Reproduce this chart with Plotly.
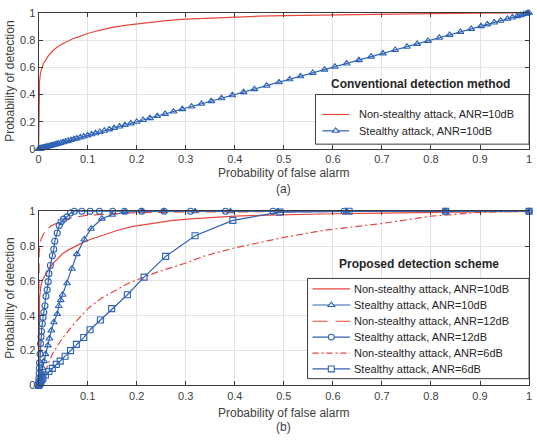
import math
import plotly.graph_objects as go

# ---------------- data ----------------
# (a) conventional detection method
conv_nst10_x = [0, 0.0005, 0.001, 0.002, 0.004, 0.007, 0.01, 0.015, 0.02, 0.03, 0.04, 0.05, 0.06, 0.07,
                0.08, 0.1, 0.12, 0.15, 0.18, 0.22, 0.26, 0.3, 0.35, 0.4, 0.45, 0.5, 0.6, 0.7, 0.8, 0.9, 1.0]
conv_nst10_y = [0, 0.3, 0.42, 0.5, 0.56, 0.6, 0.63, 0.655, 0.685, 0.725, 0.755, 0.775, 0.795, 0.81,
                0.822, 0.848, 0.868, 0.893, 0.91, 0.927, 0.942, 0.954, 0.962, 0.969, 0.975, 0.979, 0.985,
                0.99, 0.994, 0.997, 1.0]

conv_st10_x = [0, 0.001, 0.002, 0.003, 0.004, 0.005, 0.006, 0.008, 0.01, 0.012, 0.014, 0.016, 0.019,
               0.022, 0.025, 0.028, 0.032, 0.036, 0.04, 0.045, 0.05, 0.055, 0.06, 0.066, 0.072, 0.078,
               0.085, 0.092, 0.1, 0.108, 0.116, 0.125, 0.134, 0.144, 0.154, 0.165, 0.176, 0.188, 0.2,
               0.213, 0.227, 0.242, 0.258, 0.275, 0.293, 0.312, 0.332, 0.352, 0.373, 0.395, 0.418, 0.44,
               0.465, 0.49, 0.512, 0.534, 0.559, 0.583, 0.604, 0.628, 0.653, 0.678, 0.702, 0.727, 0.751,
               0.772, 0.794, 0.817, 0.838, 0.86, 0.882, 0.902, 0.915, 0.929, 0.942, 0.956, 0.966, 0.976,
               0.983, 0.989, 0.994, 0.997, 1.0]
conv_st10_y = [0, 0.001, 0.002, 0.003, 0.004, 0.005, 0.006, 0.008, 0.01, 0.012, 0.014, 0.016, 0.019,
               0.022, 0.025, 0.028, 0.032, 0.036, 0.04, 0.045, 0.05, 0.055, 0.06, 0.066, 0.072, 0.078,
               0.085, 0.092, 0.1, 0.108, 0.116, 0.125, 0.134, 0.144, 0.154, 0.165, 0.176, 0.188, 0.2,
               0.213, 0.227, 0.242, 0.258, 0.275, 0.293, 0.312, 0.332, 0.352, 0.373, 0.395, 0.418, 0.44,
               0.465, 0.49, 0.512, 0.534, 0.559, 0.583, 0.604, 0.628, 0.653, 0.678, 0.702, 0.727, 0.751,
               0.772, 0.794, 0.817, 0.838, 0.86, 0.882, 0.902, 0.915, 0.929, 0.942, 0.956, 0.966, 0.976,
               0.983, 0.989, 0.994, 0.997, 1.0]

# (b) proposed detection scheme
prop_nst10_x = [0, 0.0005, 0.001, 0.002, 0.004, 0.007, 0.01, 0.014, 0.02, 0.028, 0.04, 0.048, 0.06,
                0.075, 0.09, 0.105, 0.13, 0.16, 0.19, 0.23, 0.27, 0.31, 0.35, 0.4, 0.45, 0.5, 0.6, 0.7,
                0.8, 0.9, 1.0]
prop_nst10_y = [0, 0.3, 0.42, 0.5, 0.56, 0.6, 0.615, 0.635, 0.665, 0.695, 0.735, 0.755, 0.777, 0.8,
                0.82, 0.838, 0.862, 0.89, 0.912, 0.93, 0.946, 0.956, 0.965, 0.972, 0.977, 0.981, 0.986,
                0.99, 0.994, 0.997, 1.0]

prop_st10_x = [0, 0.001, 0.002, 0.003, 0.004, 0.005, 0.006, 0.008, 0.011, 0.014, 0.019, 0.022, 0.026,
               0.031, 0.038, 0.041, 0.045, 0.049, 0.058, 0.068, 0.078, 0.093, 0.107, 0.129, 0.15, 0.176,
               0.211, 0.255, 0.319, 0.391, 0.488, 0.628, 0.83, 1.0]
prop_st10_y = [0, 0.01, 0.02, 0.03, 0.045, 0.06, 0.075, 0.1, 0.14, 0.18, 0.23, 0.27, 0.316, 0.363, 0.41,
               0.456, 0.49, 0.521, 0.587, 0.67, 0.754, 0.838, 0.9, 0.958, 0.98, 0.995, 1.0, 1.0, 1.0,
               1.0, 1.0, 1.0, 1.0, 1.0]

prop_nst12_x = [0, 0, 0.001, 0.003, 0.005, 0.01, 0.015, 0.025, 0.035, 0.05, 0.062, 0.08, 0.1, 0.15,
                0.2, 0.3, 0.4, 0.5, 0.7, 1.0]
prop_nst12_y = [0, 0.62, 0.76, 0.81, 0.84, 0.87, 0.89, 0.915, 0.93, 0.95, 0.96, 0.97, 0.978, 0.985,
                0.992, 0.996, 0.998, 0.999, 1.0, 1.0]

prop_st12_x = [0, 0.0003, 0.0006, 0.001, 0.0015, 0.002, 0.003, 0.004, 0.005, 0.006, 0.0075, 0.009,
               0.0107, 0.013, 0.015, 0.0175, 0.0195, 0.021, 0.024, 0.028, 0.031, 0.033, 0.038, 0.042,
               0.046, 0.051, 0.058, 0.065, 0.073, 0.088, 0.105, 0.124, 0.151, 0.175, 0.21, 0.256, 0.31,
               0.381, 0.478, 0.623, 0.83, 1.0]
prop_st12_y = [0, 0.02, 0.04, 0.07, 0.1, 0.13, 0.18, 0.24, 0.28, 0.31, 0.354, 0.39, 0.42, 0.458,
               0.512, 0.549, 0.596, 0.642, 0.689, 0.745, 0.782, 0.828, 0.875, 0.918, 0.94, 0.955, 0.968,
               0.99, 1.0, 1.0, 1.0, 1.0, 1.0, 1.0, 1.0, 1.0, 1.0, 1.0, 1.0, 1.0, 1.0, 1.0]

prop_nst6_x = [0, 0.004, 0.014, 0.028, 0.048, 0.075, 0.1, 0.129, 0.183, 0.243, 0.297, 0.34, 0.4, 0.5,
               0.58, 0.65, 0.7, 0.8, 0.9, 1.0]
prop_nst6_y = [0, 0.01, 0.084, 0.18, 0.27, 0.363, 0.44, 0.503, 0.587, 0.652, 0.70, 0.745, 0.79, 0.85,
               0.89, 0.915, 0.93, 0.972, 0.994, 1.0]

prop_st6_x = [0, 0.001, 0.002, 0.003, 0.005, 0.007, 0.009, 0.014, 0.021, 0.028, 0.036, 0.044, 0.054,
              0.065, 0.077, 0.092, 0.105, 0.126, 0.149, 0.181, 0.215, 0.259, 0.319, 0.396, 0.492, 0.633,
              0.83, 1.0]
prop_st6_y = [0, 0.005, 0.01, 0.015, 0.025, 0.035, 0.045, 0.06, 0.08, 0.098, 0.121, 0.14, 0.168, 0.2,
              0.236, 0.275, 0.32, 0.376, 0.441, 0.521, 0.622, 0.741, 0.86, 0.948, 0.995, 1.0, 1.0, 1.0]

labels = ["Non-stealthy attack, ANR=10dB", "Stealthy attack, ANR=10dB",
          "Non-stealthy attack, ANR=12dB", "Stealthy attack, ANR=12dB",
          "Non-stealthy attack, ANR=6dB", "Stealthy attack, ANR=6dB"]

x_ticks_top = [0, 0.1, 0.2, 0.3, 0.4, 0.5, 0.6, 0.7, 0.8, 0.9, 1]
x_ticks_bot = [0.1, 0.2, 0.3, 0.4, 0.5, 0.6, 0.7, 0.8, 0.9, 1]
y_ticks = [0, 0.2, 0.4, 0.6, 0.8, 1]

# ---------------- styles ----------------
RED = "#e8483c"
BLUE = "#2d62b5"
TXT = "#404040"
DARK = "#262626"
FRAME = "#3a3a3a"
FONT = "Liberation Sans, Arial, sans-serif"
LW = 1.2
DASH12 = "10px,6px"
DASHDOT6 = "7px,3px,2px,3px"

W, H = 537, 444
def px(v): return v / W
def py(v): return 1 - v / H

fig = go.Figure()

def line(x, y, name, color, dash="solid", symbol=None, xa="x", ya="y"):
    mode = "lines+markers" if symbol else "lines"
    kw = dict(x=x, y=y, name=name, mode=mode, xaxis=xa, yaxis=ya, showlegend=False,
              line=dict(color=color, width=LW, dash=dash), cliponaxis=False)
    if symbol:
        kw["marker"] = dict(symbol=symbol, size=6, color=color, line=dict(color=color, width=1.1))
    fig.add_trace(go.Scatter(**kw))

# top
line(conv_nst10_x, conv_nst10_y, labels[0], RED)
line(conv_st10_x, conv_st10_y, labels[1], BLUE, symbol="triangle-up-open")
# bottom
line(prop_nst10_x, prop_nst10_y, labels[0], RED, xa="x2", ya="y2")
line(prop_st10_x, prop_st10_y, labels[1], BLUE, symbol="triangle-up-open", xa="x2", ya="y2")
line(prop_nst12_x, prop_nst12_y, labels[2], RED, dash=DASH12, xa="x2", ya="y2")
line(prop_st12_x, prop_st12_y, labels[3], BLUE, symbol="circle-open", xa="x2", ya="y2")
line(prop_nst6_x, prop_nst6_y, labels[4], RED, dash=DASHDOT6, xa="x2", ya="y2")
line(prop_st6_x, prop_st6_y, labels[5], BLUE, symbol="square-open", xa="x2", ya="y2")

axis_common = dict(range=[0, 1], showgrid=True, gridcolor="#e3e3e3", gridwidth=1, zeroline=False,
                   showline=True, linecolor=FRAME, linewidth=1, mirror="ticks", ticks="inside",
                   ticklen=4, tickcolor=FRAME, tickfont=dict(family=FONT, size=11, color=TXT))

fig.update_layout(
    width=W, height=H, margin=dict(l=0, r=0, t=0, b=0),
    paper_bgcolor="white", plot_bgcolor="white",
    font=dict(family=FONT, color=TXT),
    xaxis=dict(axis_common, domain=[px(36), px(532)], anchor="y", tickvals=x_ticks_top),
    yaxis=dict(axis_common, domain=[py(147), py(7)], anchor="x", tickvals=y_ticks),
    xaxis2=dict(axis_common, domain=[px(36), px(532)], anchor="y2", tickvals=x_ticks_bot),
    yaxis2=dict(axis_common, domain=[py(390), py(211)], anchor="x2", tickvals=y_ticks),
    showlegend=False,
)

# ---------------- custom legends (MATLAB-like compact boxes) ----------------
shapes = []
ann = []

def text(t, x, y, size=12, bold=False, angle=0, color=TXT, xanchor="center"):
    ann.append(dict(text=f"<b>{t}</b>" if bold else t, x=px(x), y=py(y), xref="paper", yref="paper",
                    showarrow=False, xanchor=xanchor, yanchor="middle", textangle=angle,
                    font=dict(family=FONT, size=size, color=color)))

def marker_shape(sym, cx, cy, color, r=3.0):
    common = dict(xref="paper", yref="paper", layer="above",
                  line=dict(color=color, width=1.1), fillcolor="white")
    if sym == "triangle":
        rt = r * 2 / math.sqrt(3)
        pts = [(cx - rt, cy + r / 2), (cx + rt, cy + r / 2), (cx, cy - r)]
        path = "M " + " L ".join(f"{px(a):.5f},{py(b):.5f}" for a, b in pts) + " Z"
        shapes.append(dict(type="path", path=path, **common))
    elif sym == "circle":
        shapes.append(dict(type="circle", x0=px(cx - r), x1=px(cx + r), y0=py(cy + r), y1=py(cy - r), **common))
    elif sym == "square":
        shapes.append(dict(type="rect", x0=px(cx - r), x1=px(cx + r), y0=py(cy + r), y1=py(cy - r), **common))

def legend_box(x0, y0, x1, y1, entries, lx0, lx1, tx, rows):
    shapes.append(dict(type="rect", xref="paper", yref="paper", layer="above",
                       x0=px(x0), x1=px(x1), y0=py(y1), y1=py(y0),
                       line=dict(color=FRAME, width=1), fillcolor="white"))
    for (lab, color, dash, sym), ry in zip(entries, rows):
        shapes.append(dict(type="line", xref="paper", yref="paper", layer="above",
                           x0=px(lx0), x1=px(lx1), y0=py(ry), y1=py(ry),
                           line=dict(color=color, width=LW, dash=dash)))
        if sym:
            marker_shape(sym, (lx0 + lx1) / 2, ry, color)
        text(lab, tx, ry, size=11, color=DARK, xanchor="left")

legend_box(316, 91, 532, 142,
           [(labels[0], RED, "solid", None), (labels[1], BLUE, "solid", "triangle")],
           323, 350, 358, [111.5, 128.3])

legend_box(308, 280, 532, 383,
           [(labels[0], RED, "solid", None), (labels[1], BLUE, "solid", "triangle"),
            (labels[2], RED, "15px,8px", None), (labels[3], BLUE, "solid", "circle"),
            (labels[4], RED, "6px,3px,2px,3px", None), (labels[5], BLUE, "solid", "square")],
           313, 351, 353, [290.7, 307.3, 324.0, 340.3, 356.7, 373.0])

text("Conventional detection method", 422, 80, size=12, bold=True, color=DARK)
text("Proposed detection scheme", 421, 265, size=12, bold=True, color=DARK)
text("Probability of false alarm", 284, 172)
text("Probability of false alarm", 284, 418)
text("(a)", 284, 188)
text("(b)", 284, 433)
text("Probability of detection", 7, 77, angle=-90)
text("Probability of detection", 7, 300, angle=-90)

fig.update_layout(shapes=shapes, annotations=ann)

fig.write_html("out.html")
